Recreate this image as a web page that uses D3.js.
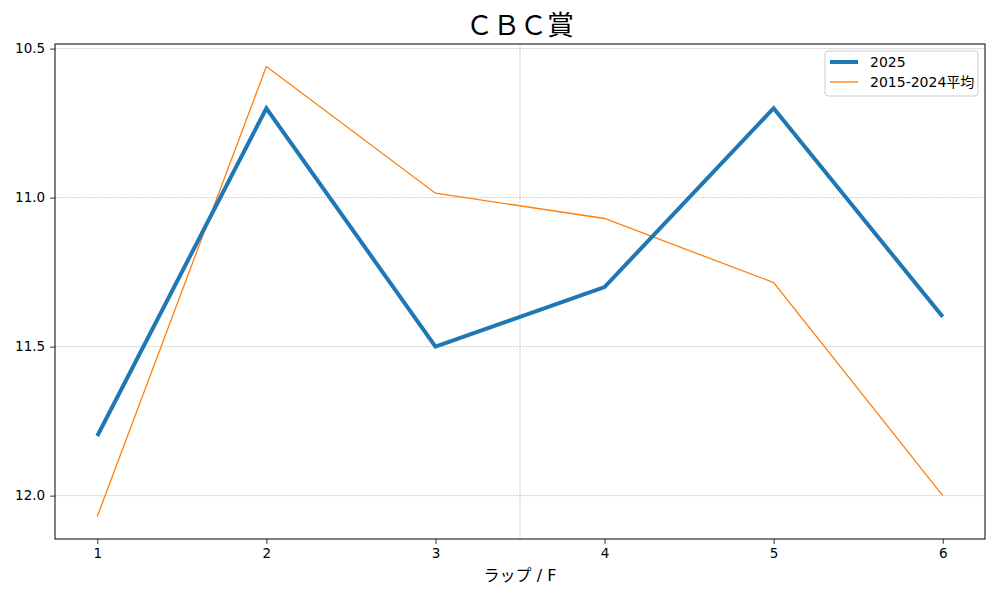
<!DOCTYPE html>
<html><head><meta charset="utf-8">
<script src="https://cdn.jsdelivr.net/npm/d3@7"></script>
<style>body{margin:0;background:#fff}svg{display:block;font-family:"DejaVu Sans","Noto Sans CJK JP",sans-serif}</style>
</head><body><div id="c"></div>
<script>
const laps = [1,2,3,4,5,6];
const s2025 = [11.8,10.7,11.5,11.3,10.7,11.4];
const sAvg = [12.07,10.56,10.985,11.07,11.285,12.0];
const yTicks = [10.5,11.0,11.5,12.0];
const seriesNames = ["2025","2015-2024平均"];
const title = "ＣＢＣ賞";
const xLabel = "ラップ / F";

const W=1000,H=600, m={l:55,r:15,t:44,b:61};
const svg=d3.select("#c").append("svg").attr("width",W).attr("height",H);
const x=d3.scaleLinear().domain([0.75,6.25]).range([m.l,W-m.r]);
const y=d3.scaleLinear().domain([10.4845,12.1455]).range([m.t,H-m.b]);

// grid
svg.append("g").selectAll("line").data(yTicks).join("line")
 .attr("x1",m.l).attr("x2",W-m.r).attr("y1",d=>y(d)).attr("y2",d=>y(d))
 .attr("stroke","#b0b0b0").attr("stroke-width",0.6).attr("stroke-dasharray","2.2,1");
svg.append("line").attr("x1",x(3.5)).attr("x2",x(3.5)).attr("y1",m.t).attr("y2",H-m.b)
 .attr("stroke","#b0b0b0").attr("stroke-width",0.6).attr("stroke-dasharray","2.2,1");

const line=d3.line().x((d,i)=>x(laps[i])).y(d=>y(d));
svg.append("path").datum(sAvg).attr("d",line).attr("fill","none").attr("stroke","#ff7f0e").attr("stroke-width",1.3);
svg.append("path").datum(s2025).attr("d",line).attr("fill","none").attr("stroke","#1f77b4").attr("stroke-width",4);

// axes
const xa=svg.append("g").attr("transform",`translate(0,${H-m.b})`).call(d3.axisBottom(x).tickValues(laps).tickFormat(d3.format("d")).tickSizeOuter(0).tickSize(4.9).tickPadding(5));
const ya=svg.append("g").attr("transform",`translate(${m.l},0)`).call(d3.axisLeft(y).tickValues(yTicks).tickFormat(d3.format(".1f")).tickSizeOuter(0).tickSize(4.9).tickPadding(5));
[xa,ya].forEach(a=>{a.select(".domain").remove();a.selectAll("text").attr("font-size",13.5).attr("fill","#000").style("font-family","'DejaVu Sans',sans-serif");a.selectAll("line").attr("stroke","#000").attr("stroke-width",0.8);});
svg.append("rect").attr("x",m.l).attr("y",m.t).attr("width",W-m.l-m.r).attr("height",H-m.t-m.b).attr("fill","none").attr("stroke","#000").attr("stroke-width",1);

svg.append("text").attr("x",(m.l+W-m.r)/2).attr("y",35).attr("text-anchor","middle").attr("font-size",27).text(title);
svg.append("text").attr("x",(m.l+W-m.r)/2).attr("y",581).attr("text-anchor","middle").attr("font-size",16).text(xLabel);

// legend
const lg=svg.append("g").attr("transform","translate(825,51)");
lg.append("rect").attr("width",153).attr("height",45).attr("rx",3).attr("fill","#fff").attr("fill-opacity",0.8).attr("stroke","#ccc");
const cols=["#1f77b4","#ff7f0e"], ws=[4,1.3];
seriesNames.forEach((n,i)=>{
  const yy=11+i*20;
  lg.append("line").attr("x1",5).attr("x2",33).attr("y1",yy).attr("y2",yy).attr("stroke",cols[i]).attr("stroke-width",ws[i]);
  lg.append("text").attr("x",45).attr("y",yy+5).attr("font-size",14).text(n);
});
</script></body></html>
